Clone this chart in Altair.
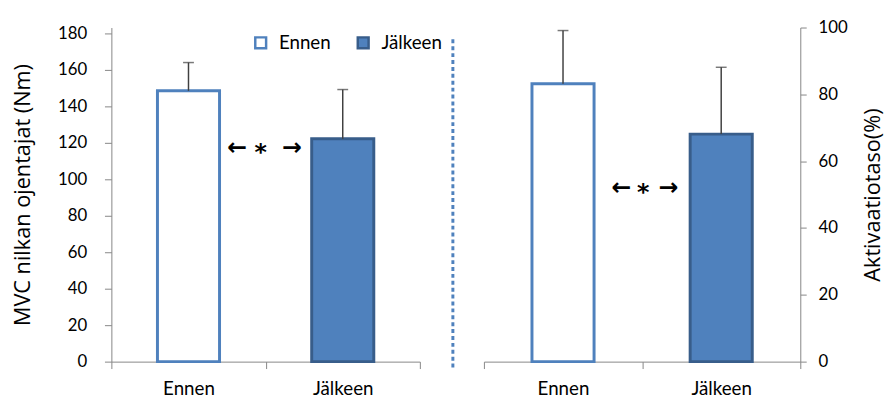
import altair as alt
import pandas as pd

# Measurement phases
categories = ["Ennen", "Jälkeen"]

# MVC of the ankle extensors (Nm): mean and SD
mvc_mean = [148.5, 122.2]
mvc_sd = [15.5, 27.0]

# Activation level (%): mean and SD
act_mean = [83.2, 68.1]
act_sd = [15.9, 20.0]

mvc_ticks = [0, 20, 40, 60, 80, 100, 120, 140, 160, 180]
act_ticks = [0, 20, 40, 60, 80, 100]

# Significance marker level in each panel
mvc_sig_level = [117]
act_sig_level = [52]

fill_colors = ["#FFFFFF", "#4F81BD"]
stroke_colors = ["#4F81BD", "#385D8A"]
axis_gray = "#868686"
err_color = "#404040"


def frame(means, sds):
    return pd.DataFrame({
        "vaihe": categories,
        "keskiarvo": means,
        "yla": [m + s for m, s in zip(means, sds)],
    })


def legend_def():
    return alt.Legend(
        title=None, orient="none", direction="horizontal",
        legendX=142, legendY=6, symbolType="square", symbolSize=121,
        symbolStrokeWidth=2.5, labelFontSize=19, labelFont="Lato",
        labelColor="#000000", labelOffset=9, columnPadding=22, padding=0,
    )


def panel(df, title, domain, ticks, orient, sig_level, sig_dx, width, divider):
    x_axis = alt.Axis(title=None, labelAngle=0, tickBand="extent", tickSize=7,
                      labelPadding=11, labelFontSize=19, labelColor="#000000",
                      domainColor=axis_gray, tickColor=axis_gray)
    x_scale = alt.Scale(paddingInner=0, paddingOuter=0)
    y_axis = alt.Axis(
        orient=orient, values=ticks, title=title, grid=False, labelOverlap=False,
        tickSize=7 if orient == "left" else 6,
        labelPadding=18 if orient == "left" else 12,
        labelFontSize=17, labelColor="#000000",
        titleFont="Open Sans", titleFontSize=22,
        titleFontWeight="normal", titleColor="#000000",
        titlePadding=23 if orient == "left" else 38,
        domainColor=axis_gray, tickColor=axis_gray,
        titleAngle=270,
    )
    y_scale = alt.Scale(domain=domain, nice=False, zero=True)

    def xenc(**kw):
        return alt.X("vaihe:N", sort=categories, scale=x_scale, axis=x_axis, **kw)

    def yenc(field):
        return alt.Y(field, scale=y_scale, axis=y_axis)

    base = alt.Chart(df)
    bars = base.mark_bar(width=63, strokeWidth=3).encode(
        x=xenc(),
        y=yenc("keskiarvo:Q"),
        fill=alt.Fill("vaihe:N", sort=categories,
                      scale=alt.Scale(domain=categories, range=fill_colors),
                      legend=legend_def()),
        stroke=alt.Stroke("vaihe:N", sort=categories,
                          scale=alt.Scale(domain=categories, range=stroke_colors),
                          legend=legend_def()),
    )
    err = base.mark_rule(color=err_color, strokeWidth=1.5).encode(
        x=xenc(), y=yenc("keskiarvo:Q"), y2="yla:Q",
    )
    cap = base.mark_tick(color=err_color, thickness=1.5, size=11).encode(
        x=xenc(), y=yenc("yla:Q"),
    )
    # Significance marker: left arrow, asterisk, right arrow around the category boundary
    sig_df = pd.DataFrame({"vaihe": ["Jälkeen"], "taso": sig_level})
    sig_base = alt.Chart(sig_df).encode(
        x=xenc(bandPosition=0),
        y=yenc("taso:Q"),
    )
    left_arrow = sig_base.mark_text(
        text="←", font="DejaVu Sans", fontWeight="bold", fontSize=24,
        color="#000000", dx=sig_dx[0])
    star = sig_base.mark_text(
        text="*", font="DejaVu Sans", fontWeight="bold", fontSize=24,
        color="#000000", dx=sig_dx[1], dy=5)
    right_arrow = sig_base.mark_text(
        text="→", font="DejaVu Sans", fontWeight="bold", fontSize=24,
        color="#000000", dx=sig_dx[2])
    layers = [bars, err, cap, left_arrow, star, right_arrow]
    if divider:
        line = alt.Chart(pd.DataFrame({"d": [0]})).mark_rule(
            color="#4F81BD", strokeWidth=3, strokeDash=[4, 3]
        ).encode(x=alt.value(346.5), y=alt.value(12), y2=alt.value(345))
        layers.append(line)
    return alt.layer(*layers).properties(width=width, height=339)


left = panel(frame(mvc_mean, mvc_sd), "MVC nilkan ojentajat  (Nm)",
             [0, 183.2], mvc_ticks, "left", mvc_sig_level, (-29, -5, 27), 313, True)
right = panel(frame(act_mean, act_sd), "Aktivaatiotaso(%)",
              [0, 100], act_ticks, "right", act_sig_level, (-21, 1, 27), 321, False)

chart = alt.hconcat(left, right, spacing=65, bounds="flush").properties(
    padding={"left": 12, "top": 16, "right": 5, "bottom": 0}
).configure(font="Lato").configure_view(stroke=None).configure_axis(labelOverlap=False)

chart.save("out.html", embed_options={"renderer": "svg", "actions": False})
